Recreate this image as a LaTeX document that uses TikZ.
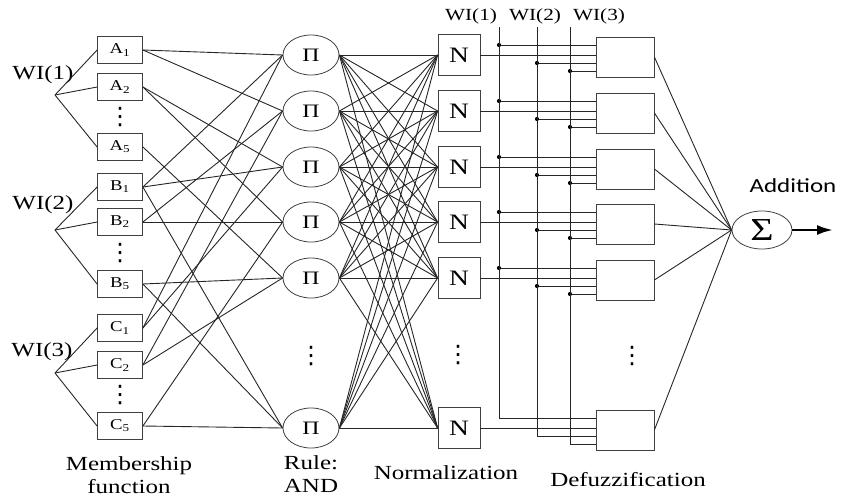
\documentclass[tikz,border=0pt]{standalone}
\usepackage{fontspec}
\setmainfont{Liberation Serif}[FakeStretch=1.25]
\newfontfamily\addfont{Carlito}[FakeStretch=1.25]
\newfontfamily\dotfont{DejaVu Sans}
\usetikzlibrary{shapes.geometric, arrows.meta, calc}
\tikzset{
  mfbox/.style={rectangle, draw=black!75, line width=0.8pt, minimum width=45pt,
    minimum height=27pt, inner sep=0pt, font=\fontsize{15}{15}\selectfont},
  rulenode/.style={ellipse, draw=black!75, line width=0.8pt, minimum width=56pt,
    minimum height=40pt, inner sep=0pt, font=\fontsize{19}{19}\selectfont},
  normbox/.style={rectangle, draw=black!75, line width=0.8pt, minimum width=42pt,
    minimum height=41pt, inner sep=0pt, font=\fontsize{22}{22}\selectfont},
  defbox/.style={rectangle, draw=black!75, line width=0.8pt, minimum width=58pt,
    minimum height=40pt, inner sep=0pt},
  sumnode/.style={ellipse, draw=black!75, line width=0.8pt, minimum width=60pt,
    minimum height=38pt, inner sep=0pt, font=\fontsize{32}{32}\selectfont},
  link/.style={line width=0.9pt, color=black!85},
  outarrow/.style={-{Latex[length=16pt, width=10pt]}, line width=2.4pt},
  junction/.style={circle, fill=black, inner sep=0pt, minimum size=4.2pt},
  dotsnode/.style={font=\dotfont\fontsize{24}{24}\selectfont, inner sep=0pt},
  inlabel/.style={font=\fontsize{20}{20}\selectfont, inner sep=0pt},
  toplabel/.style={font=\fontsize{17}{17}\selectfont, inner sep=0pt},
  caption/.style={font=\fontsize{20}{23}\selectfont, align=center, inner sep=0pt},
}
\begin{document}
\begin{tikzpicture}[x=1pt, y=-1pt]
  \useasboundingbox (0,0) rectangle (841,498);

  % membership functions
  \foreach \n/\l/\s/\y in {a1/A/1/50, a2/A/2/87, a5/A/5/147,
                           b1/B/1/187, b2/B/2/222, b5/B/5/284,
                           c1/C/1/328, c2/C/2/365, c5/C/5/426}
    \node[mfbox] (\n) at (120,\y) {\l\textsubscript{\s}};
  \node[dotsnode] (adots) at (120,117) {⋮};
  \node[dotsnode] (bdots) at (120,253) {⋮};
  \node[dotsnode] (cdots) at (120,395) {⋮};

  % inputs
  \node[inlabel] (in1) at (43,75) {WI(1)};
  \node[inlabel] (in2) at (43,205) {WI(2)};
  \node[inlabel] (in3) at (42,352) {WI(3)};
  \coordinate (x1) at (55,95);
  \coordinate (x2) at (55,230);
  \coordinate (x3) at (55,373);
  \foreach \t in {a1,a2,a5} \draw[link] (x1) -- (\t.west);
  \foreach \t in {b1,b2,b5} \draw[link] (x2) -- (\t.west);
  \foreach \t in {c1,c2,c5} \draw[link] (x3) -- (\t.west);

  % rule, normalization and defuzzification layers
  \foreach \i/\y in {1/55, 2/111, 3/167, 4/222, 5/278, 6/428} {
    \node[rulenode] (r\i) at (311,\y) {Π};
    \node[normbox] (n\i) at (459,\y) {N};
    \node[defbox] (d\i) at (625,\y+2) {};
  }
  \node[dotsnode] (rdots) at (311,356) {⋮};
  \node[dotsnode] (ndots) at (458,355) {⋮};
  \node[dotsnode] (ddots) at (632,356) {⋮};

  % membership -> rule
  \foreach \s/\t in {a1/r1, a1/r2, a2/r3, a2/r4, a5/r5,
                     b1/r1, b1/r3, b1/r6, b2/r2, b2/r4, b5/r5, b5/r6,
                     c1/r1, c1/r3, c2/r2, c2/r5, c5/r4, c5/r6}
    \draw[link] (\s.east) -- (\t.west);

  % rule -> normalization
  \foreach \i in {1,...,6}
    \foreach \j in {1,...,6}
      \draw[link] (r\i.east) -- (n\j.west);

  % weight buses
  \coordinate (v1) at (499,27);
  \coordinate (v2) at (537,27);
  \coordinate (v3) at (570,27);
  \node[toplabel] (t1) at (471,16) {WI(1)};
  \node[toplabel] (t2) at (535,16) {WI(2)};
  \node[toplabel] (t3) at (599,16) {WI(3)};

  \foreach \i in {1,...,6} {
    \coordinate (da\i) at ([yshift=12pt]d\i.west);
    \coordinate (dn\i) at ([yshift=2pt]d\i.west);
    \coordinate (db\i) at ([yshift=-6pt]d\i.west);
    \coordinate (dc\i) at ([yshift=-14pt]d\i.west);
    \draw[link] (n\i.east) -- (dn\i);
  }
  \foreach \i in {1,...,5} {
    \draw[link] (v1 |- da\i) -- (da\i);
    \draw[link] (v2 |- db\i) -- (db\i);
    \draw[link] (v3 |- dc\i) -- (dc\i);
    \node[junction] (ja\i) at (v1 |- da\i) {};
    \node[junction] (jb\i) at (v2 |- db\i) {};
    \node[junction] (jc\i) at (v3 |- dc\i) {};
  }
  \draw[link] (v1) -- (v1 |- da6) -- (da6);
  \draw[link] (v2) -- (v2 |- db6) -- (db6);
  \draw[link] (v3) -- (v3 |- dc6) -- (dc6);

  % addition
  \node[sumnode] (sum) at (762,230) {Σ};
  \node[font=\addfont\fontsize{20}{20}\selectfont, inner sep=0pt]
    (addlbl) at (793,186) {Addition};
  \foreach \i in {1,...,6} \draw[link] (d\i.east) -- (sum.west);
  \coordinate (out) at (833,230);
  \draw[outarrow] (sum.east) -- (out);

  % layer captions
  \node[caption] (cap1) at (129,475) {Membership\\function};
  \node[caption] (cap2) at (311,474) {Rule:\\AND};
  \node[caption] (cap3) at (446,473) {Normalization};
  \node[caption] (cap4) at (628,480) {Defuzzification};
\end{tikzpicture}
\end{document}
